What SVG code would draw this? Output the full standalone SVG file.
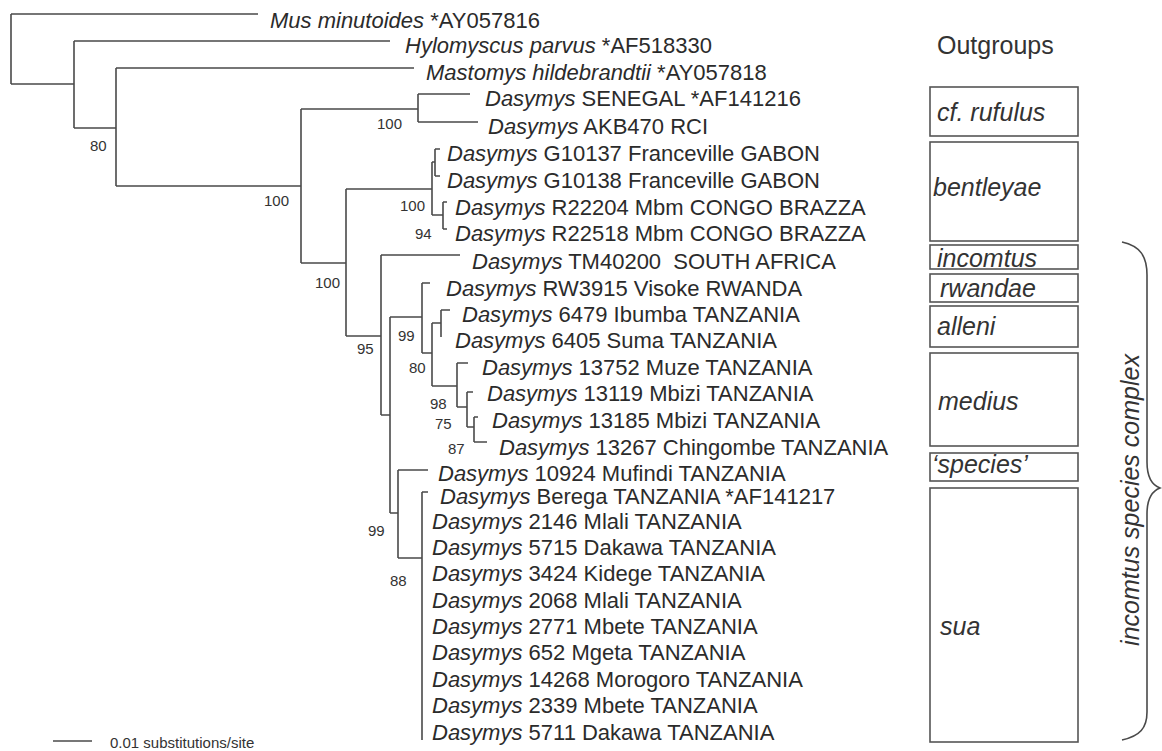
<svg xmlns="http://www.w3.org/2000/svg" width="1162" height="751" viewBox="0 0 1162 751">
<style>
.tx{font-family:"Liberation Sans",Arial,sans-serif;font-size:22px;fill:#2b2b2b}
.it{font-style:italic}
.bs{font-family:"Liberation Sans",Arial,sans-serif;font-size:15px;fill:#333}
.br{fill:none;stroke:#4a4a4a;stroke-width:1.6}
.bx{fill:none;stroke:#555;stroke-width:1.6}
.lb{font-family:"Liberation Sans",Arial,sans-serif;font-size:25px;fill:#333}
</style>
<rect width="1162" height="751" fill="#fff"/>
<g id="connectors">
<path class="br" d="M11,14 H258 M11,14 V84 M11,84 H74 M74,41 V128 M74,41 H390 M74,128 H116 M116,68 V186 M116,68 H414 M116,186 H301"/>
<path class="br" d="M301,109 V263 M301,109 H418 M418,94 V122 M418,94 H470 M418,122 H478 M301,263 H346"/>
<path class="br" d="M346,189 V336 M346,189 H432 M432,162 V215 M432,162 H435 M435,149 V176 M435,149 H440 M435,176 H440 M432,215 H443 M443,202 V229 M443,202 H447 M443,229 H447"/>
<path class="br" d="M346,336 H381 M381,255 V415 M381,255 H460 M381,415 H390 M390,317 V513 M390,317 H422"/>
<path class="br" d="M422,283 V353 M422,283 H430 M422,353 H432 M432,323 V386 M432,323 H441 M441,310 V337 M441,310 H450"/>
<path class="br" d="M432,386 H457 M457,363 V407 M457,363 H468 M457,407 H467 M467,392 V427 M467,392 H473 M467,427 H474 M474,417 V442 M474,417 H478 M474,442 H487"/>
<path class="br" d="M390,513 H398 M398,470 V558 M398,470 H428 M398,558 H422 M422,492 V740 M422,492 H428"/>
<path class="br" d="M53,741 H92"/>
</g>
<g id="support">
<text class="bs" x="90" y="151">80</text>
<text class="bs" x="264" y="206">100</text>
<text class="bs" x="377" y="129">100</text>
<text class="bs" x="315" y="288">100</text>
<text class="bs" x="400" y="211">100</text>
<text class="bs" x="415" y="239">94</text>
<text class="bs" x="357" y="354">95</text>
<text class="bs" x="398" y="341">99</text>
<text class="bs" x="409" y="373">80</text>
<text class="bs" x="430" y="409">98</text>
<text class="bs" x="435" y="429">75</text>
<text class="bs" x="448" y="454">87</text>
<text class="bs" x="368" y="536">99</text>
<text class="bs" x="390" y="586">88</text>
</g>
<g id="taxa">
<g id="t0"><text class="tx" x="270" y="28"><tspan class="it">Mus minutoides</tspan> *AY057816</text></g>
<g id="t1"><text class="tx" x="405" y="53"><tspan class="it">Hylomyscus parvus</tspan> *AF518330</text></g>
<g id="t2"><text class="tx" x="426" y="80"><tspan class="it">Mastomys hildebrandtii</tspan> *AY057818</text></g>
<g id="t3"><text class="tx" x="485" y="106"><tspan class="it">Dasymys</tspan> SENEGAL *AF141216</text></g>
<g id="t4"><text class="tx" x="488" y="134"><tspan class="it">Dasymys</tspan> AKB470 RCI</text></g>
<g id="t5"><text class="tx" x="447" y="161"><tspan class="it">Dasymys</tspan> G10137 Franceville GABON</text></g>
<g id="t6"><text class="tx" x="447" y="188"><tspan class="it">Dasymys</tspan> G10138 Franceville GABON</text></g>
<g id="t7"><text class="tx" x="455" y="215"><tspan class="it">Dasymys</tspan> R22204 Mbm CONGO BRAZZA</text></g>
<g id="t8"><text class="tx" x="455" y="241"><tspan class="it">Dasymys</tspan> R22518 Mbm CONGO BRAZZA</text></g>
<g id="t9"><text class="tx" x="472" y="269" xml:space="preserve"><tspan class="it">Dasymys</tspan> TM40200  SOUTH AFRICA</text></g>
<g id="t10"><text class="tx" x="446" y="296"><tspan class="it">Dasymys</tspan> RW3915 Visoke RWANDA</text></g>
<g id="t11"><text class="tx" x="462" y="322"><tspan class="it">Dasymys</tspan> 6479 Ibumba TANZANIA</text></g>
<g id="t12"><text class="tx" x="455" y="348"><tspan class="it">Dasymys</tspan> 6405 Suma TANZANIA</text></g>
<g id="t13"><text class="tx" x="482" y="375"><tspan class="it">Dasymys</tspan> 13752 Muze TANZANIA</text></g>
<g id="t14"><text class="tx" x="487" y="401"><tspan class="it">Dasymys</tspan> 13119 Mbizi TANZANIA</text></g>
<g id="t15"><text class="tx" x="492" y="428"><tspan class="it">Dasymys</tspan> 13185 Mbizi TANZANIA</text></g>
<g id="t16"><text class="tx" x="499" y="455"><tspan class="it">Dasymys</tspan> 13267 Chingombe TANZANIA</text></g>
<g id="t17"><text class="tx" x="438" y="481"><tspan class="it">Dasymys</tspan> 10924 Mufindi TANZANIA</text></g>
<g id="t18"><text class="tx" x="440" y="504"><tspan class="it">Dasymys</tspan> Berega TANZANIA *AF141217</text></g>
<g id="t19"><text class="tx" x="432" y="529"><tspan class="it">Dasymys</tspan> 2146 Mlali TANZANIA</text></g>
<g id="t20"><text class="tx" x="432" y="555"><tspan class="it">Dasymys</tspan> 5715 Dakawa TANZANIA</text></g>
<g id="t21"><text class="tx" x="432" y="581"><tspan class="it">Dasymys</tspan> 3424 Kidege TANZANIA</text></g>
<g id="t22"><text class="tx" x="432" y="608"><tspan class="it">Dasymys</tspan> 2068 Mlali TANZANIA</text></g>
<g id="t23"><text class="tx" x="432" y="634"><tspan class="it">Dasymys</tspan> 2771 Mbete TANZANIA</text></g>
<g id="t24"><text class="tx" x="432" y="660"><tspan class="it">Dasymys</tspan> 652 Mgeta TANZANIA</text></g>
<g id="t25"><text class="tx" x="432" y="687"><tspan class="it">Dasymys</tspan> 14268 Morogoro TANZANIA</text></g>
<g id="t26"><text class="tx" x="432" y="713"><tspan class="it">Dasymys</tspan> 2339 Mbete TANZANIA</text></g>
<g id="t27"><text class="tx" x="432" y="740"><tspan class="it">Dasymys</tspan> 5711 Dakawa TANZANIA</text></g>
</g>
<g id="scale"><text class="bs" x="110" y="748" font-size="16">0.01 substitutions/site</text></g>
<g id="groups">
<g id="outgroups"><text class="lb" x="937" y="54">Outgroups</text></g>
<g id="g-rufulus"><rect class="bx" x="930" y="87" width="148" height="49"/><text class="lb it" x="937" y="121">cf. rufulus</text></g>
<g id="g-bentleyae"><rect class="bx" x="930" y="142" width="148" height="99"/><text class="lb it" x="933" y="196">bentleyae</text></g>
<g id="g-incomtus"><rect class="bx" x="930" y="245" width="148" height="24"/><text class="lb it" x="937" y="267">incomtus</text></g>
<g id="g-rwandae"><rect class="bx" x="930" y="274" width="148" height="28"/><text class="lb it" x="940" y="297">rwandae</text></g>
<g id="g-alleni"><rect class="bx" x="930" y="306" width="148" height="41"/><text class="lb it" x="937" y="335">alleni</text></g>
<g id="g-medius"><rect class="bx" x="930" y="353" width="148" height="93"/><text class="lb it" x="938" y="410">medius</text></g>
<g id="g-species"><rect class="bx" x="930" y="453" width="148" height="28"/><text class="lb it" x="932" y="473">‘species’</text></g>
<g id="g-sua"><rect class="bx" x="930" y="488" width="148" height="254"/><text class="lb it" x="940" y="635">sua</text></g>
<g id="complex"><path class="br" d="M1122,242 C1140,246 1147,256 1147,275 V462 C1147,478 1152,485 1160,488 C1152,491 1147,498 1147,514 V712 C1147,728 1140,736 1122,740"/><text class="lb it" text-anchor="middle" transform="translate(1139,500) rotate(-90)">incomtus species complex</text></g>
</g>
</svg>
